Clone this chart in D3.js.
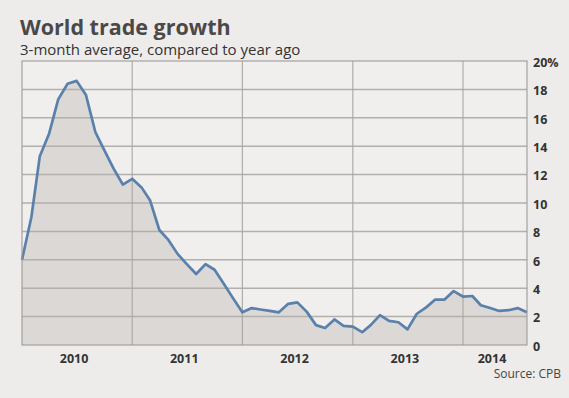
<!DOCTYPE html>
<html>
<head>
<meta charset="utf-8">
<script src="https://cdn.jsdelivr.net/npm/d3@7"></script>
<style>
  html, body { margin: 0; padding: 0; background: #eeecea; }
  svg { display: block; }
  text { font-family: "Open Sans", "Noto Sans", sans-serif; }
</style>
</head>
<body>
<svg id="chart" width="569" height="398"></svg>
<script>
// ---- data ----
const startMonth = "2010-01";
const growth = [
  6.0, 9.0, 13.3, 14.9, 17.3, 18.4, 18.6, 17.6, 15.0, 13.7,
  12.4, 11.3, 11.7, 11.1, 10.2, 8.1, 7.4, 6.4, 5.7, 5.0,
  5.7, 5.3, 4.3, 3.3, 2.3, 2.6, 2.5, 2.4, 2.3, 2.9,
  3.0, 2.35, 1.4, 1.2, 1.8, 1.35, 1.3, 0.9, 1.4, 2.1,
  1.7, 1.6, 1.1, 2.2, 2.65, 3.2, 3.2, 3.8, 3.4, 3.45,
  2.8, 2.6, 2.4, 2.45, 2.6, 2.3
];
const yearLabels = ["2010", "2011", "2012", "2013", "2014"];
const yTicks = [0, 2, 4, 6, 8, 10, 12, 14, 16, 18, 20];
const title = "World trade growth";
const subtitle = "3-month average, compared to year ago";
const source = "Source: CPB";

// ---- build ----
const parse = d3.timeParse("%Y-%m");
const t0 = parse(startMonth);
const data = growth.map((v, i) => ({ date: d3.timeMonth.offset(t0, i), value: v }));
const tEnd = data[data.length - 1].date;

const svg = d3.select("#chart");
const L = 22, R = 527, T = 61, B = 345;

const x = d3.scaleTime().domain([t0, tEnd]).range([L, R]);
const y = d3.scaleLinear().domain([0, 20]).range([B, T]);

// plot background
svg.append("rect").attr("x", L).attr("y", T).attr("width", R - L).attr("height", B - T)
  .attr("fill", "#f0efed");

// area
const area = d3.area().x(d => x(d.date)).y0(y(0)).y1(d => y(d.value));
svg.append("path").datum(data).attr("d", area).attr("fill", "#dbd8d5");

// horizontal gridlines
svg.append("g").selectAll("line").data(yTicks.filter(v => v > 0 && v < 20)).join("line")
  .attr("x1", L).attr("x2", R).attr("y1", d => y(d)).attr("y2", d => y(d))
  .attr("stroke", "#b2afac").attr("stroke-width", 1.5);

// vertical year gridlines
const years = yearLabels.map(s => d3.timeParse("%Y")(s));
svg.append("g").selectAll("line").data(years.slice(1)).join("line")
  .attr("x1", d => x(d)).attr("x2", d => x(d)).attr("y1", T).attr("y2", B)
  .attr("stroke", "#a9a6a3").attr("stroke-width", 1.1);

// line
const line = d3.line().x(d => x(d.date)).y(d => y(d.value));
svg.append("path").datum(data).attr("d", line)
  .attr("fill", "none").attr("stroke", "#5a81ac").attr("stroke-width", 2.7)
  .attr("stroke-linejoin", "round");

// frame
svg.append("rect").attr("x", L).attr("y", T).attr("width", R - L).attr("height", B - T)
  .attr("fill", "none").attr("stroke", "#9e9b98").attr("stroke-width", 1.1);

// right axis labels
const yAxis = d3.axisRight(y).tickValues(yTicks).tickSize(0).tickPadding(6)
  .tickFormat(d => d === 20 ? d + "%" : d);
const ya = svg.append("g").attr("transform", `translate(${R},0)`).call(yAxis);
ya.select(".domain").remove();
ya.selectAll("text").attr("font-family", "'Open Sans', sans-serif").attr("font-weight", "bold")
  .attr("font-size", 12.5).attr("fill", "#333").attr("dy", "0.42em");

// x year labels centered in year intervals
svg.append("g").selectAll("text").data(years).join("text")
  .attr("x", (d, i) => {
    const a = Math.max(L, x(d));
    const b = i < years.length - 1 ? x(years[i + 1]) : R;
    return (a + b) / 2 - 3;
  })
  .attr("y", 363).attr("text-anchor", "middle")
  .attr("font-weight", "bold").attr("font-size", 12.5).attr("fill", "#333")
  .text((d, i) => yearLabels[i]);

// titles
svg.append("text").attr("x", 20).attr("y", 34.5).attr("font-weight", "bold")
  .attr("font-size", 21.5).attr("fill", "#4a4848").text(title);
svg.append("text").attr("x", 20).attr("y", 55)
  .attr("font-size", 15).attr("fill", "#333").text(subtitle);

svg.append("text").attr("x", 561).attr("y", 378).attr("text-anchor", "end")
  .attr("font-size", 12).attr("fill", "#444").text(source);
</script>
</body>
</html>
